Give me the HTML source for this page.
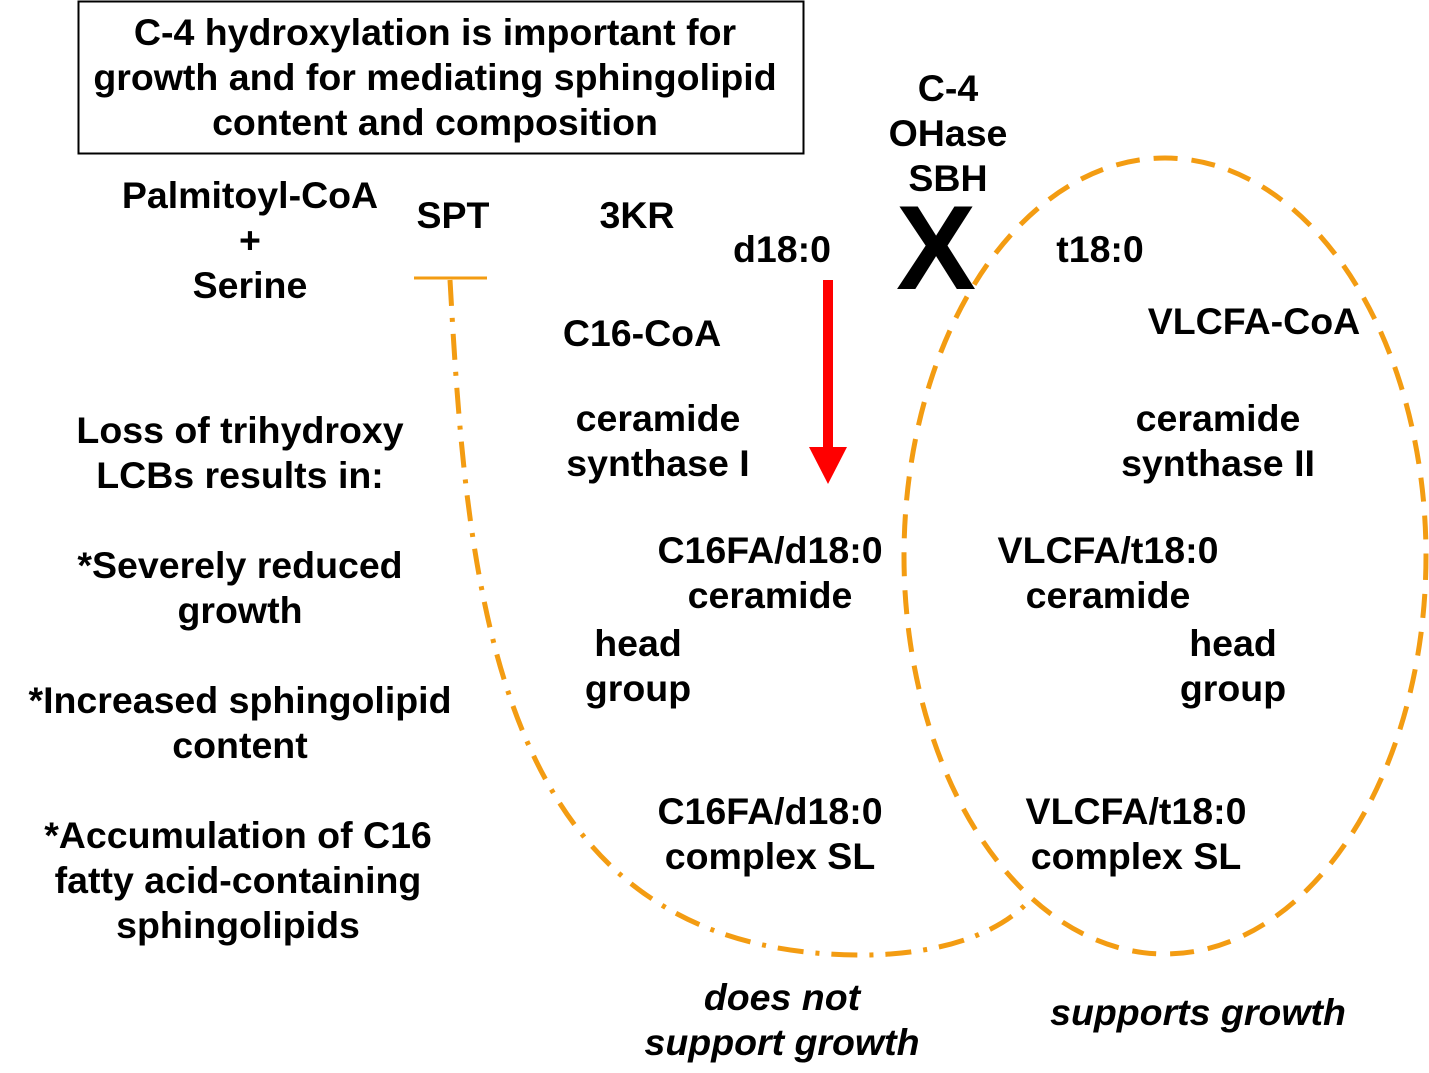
<!DOCTYPE html>
<html><head><meta charset="utf-8"><style>
html,body{margin:0;padding:0;background:#fff;}
body{width:1429px;height:1073px;position:relative;overflow:hidden;font-family:"Liberation Sans",Arial,sans-serif;}
.t{position:absolute;font-weight:bold;font-size:37.5px;line-height:45px;color:#000;white-space:nowrap;transform:translateX(-50%);text-align:center;}
.i{font-style:italic;}
svg{position:absolute;left:0;top:0;}
</style></head><body>
<svg width="1429" height="1073">
<rect x="78.5" y="1.5" width="725" height="152" fill="none" stroke="#000" stroke-width="2"/>
<ellipse cx="1165" cy="556" rx="261" ry="398" fill="none" stroke="#F39C12" stroke-width="5" stroke-dasharray="24,14"/>
<path d="M450,280 C468,600 495,960 870,955 C950,953 1000,930 1025,905" fill="none" stroke="#F39C12" stroke-width="5" stroke-dasharray="26,12,4,12"/>
<line x1="414" y1="278" x2="487" y2="278" stroke="#F39C12" stroke-width="3"/>
<line x1="828" y1="280" x2="828" y2="450" stroke="#FF0000" stroke-width="10"/>
<polygon points="809,447 847,447 828,484" fill="#FF0000"/>
</svg>
<div class="t" style="left:435px;top:10px;">C-4 hydroxylation is important for<br>growth and for mediating sphingolipid<br>content and composition</div>
<div class="t" style="left:250px;top:173px;">Palmitoyl-CoA<br>+<br>Serine</div>
<div class="t" style="left:453px;top:193px;">SPT</div>
<div class="t" style="left:637px;top:193px;">3KR</div>
<div class="t" style="left:782px;top:227px;">d18:0</div>
<div class="t" style="left:948px;top:66px;">C-4<br>OHase<br>SBH</div>
<div class="t" style="left:936px;top:188px;font-size:120px;line-height:120px;">X</div>
<div class="t" style="left:1100px;top:227px;">t18:0</div>
<div class="t" style="left:642px;top:311px;">C16-CoA</div>
<div class="t" style="left:1254px;top:299px;">VLCFA-CoA</div>
<div class="t" style="left:658px;top:396px;">ceramide<br>synthase I</div>
<div class="t" style="left:1218px;top:396px;">ceramide<br>synthase II</div>
<div class="t" style="left:240px;top:408px;">Loss of trihydroxy<br>LCBs results in:</div>
<div class="t" style="left:240px;top:543px;">*Severely reduced<br>growth</div>
<div class="t" style="left:240px;top:678px;">*Increased sphingolipid<br>content</div>
<div class="t" style="left:238px;top:813px;">*Accumulation of C16<br>fatty acid-containing<br>sphingolipids</div>
<div class="t" style="left:770px;top:528px;">C16FA/d18:0<br>ceramide</div>
<div class="t" style="left:1108px;top:528px;">VLCFA/t18:0<br>ceramide</div>
<div class="t" style="left:638px;top:621px;">head<br>group</div>
<div class="t" style="left:1233px;top:621px;">head<br>group</div>
<div class="t" style="left:770px;top:789px;">C16FA/d18:0<br>complex SL</div>
<div class="t" style="left:1136px;top:789px;">VLCFA/t18:0<br>complex SL</div>
<div class="t i" style="left:782px;top:975px;">does not<br>support growth</div>
<div class="t i" style="left:1198px;top:990px;">supports growth</div>
</body></html>
